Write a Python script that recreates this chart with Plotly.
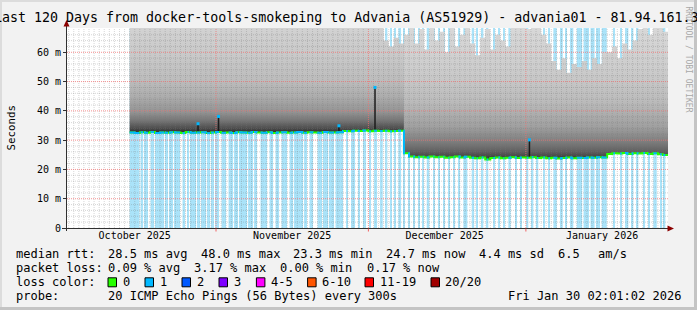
import plotly.graph_objects as go
import pandas as pd

# ---------------- data ----------------
SERIES_START = "2025-10-15 00:00"     # first consolidated sample (day 0)
X_START = "2025-10-02 16:04"
X_END = "2026-01-28 23:25"

# daily median RTT in ms (day 0 = Oct 15 2025)
median_ms = [
    32.6, 32.4, 32.7, 32.5, 32.8, 32.4, 32.6, 32.5, 32.7, 32.6,
    32.4, 32.8, 32.5, 32.6, 32.7, 32.4, 32.6, 32.8, 32.5, 32.6,
    32.4, 32.7, 32.6, 32.5, 32.8, 32.6, 32.5, 32.7, 32.4, 32.6,
    32.7, 32.5, 32.6, 32.8, 32.5, 32.7, 32.6, 32.5, 32.8, 32.6,
    32.6, 32.7, 33.1, 33.0, 33.2, 33.1, 33.3, 33.0, 33.2, 33.1,
    33.2, 33.0, 33.1, 33.2, 25.5, 24.4, 24.2, 24.3, 24.1, 24.4,
    24.2, 24.3, 24.0, 24.2, 24.4, 24.1, 24.3, 24.0, 23.8, 24.1,
    23.4, 23.9, 24.1, 23.8, 24.0, 24.2, 23.9, 24.1, 24.0, 24.2,
    23.9, 24.1, 23.8, 24.0, 23.7, 23.9, 24.1, 23.8, 24.0, 23.9,
    24.1, 24.0, 24.2, 24.1, 25.3, 25.5, 25.4, 25.6, 25.3, 25.5,
    25.4, 25.6, 25.3, 25.5, 25.2, 24.9,
]

# daily highest ping (top of the smoke) in ms
smoke_top_ms = [
    80, 80, 80, 80, 80, 80, 80, 80, 80, 80,
    80, 80, 80, 80, 80, 80, 80, 80, 80, 80,
    80, 80, 80, 80, 80, 80, 80, 80, 80, 80,
    80, 80, 80, 80, 80, 80, 80, 80, 80, 80,
    80, 80, 80, 80, 80, 72, 70, 73, 69, 71,
    64, 62, 65, 63, 66, 70, 63, 68, 61, 70,
    64, 67, 60, 69, 62, 66, 70, 63, 59, 65,
    68, 61, 66, 64, 62, 69, 70, 72, 68, 71,
    69, 66, 63, 57, 54, 58, 53, 56, 55, 57,
    54, 58, 56, 60, 60, 62, 58, 63, 61, 64,
    68, 70, 66, 69, 71, 67,
]

level_shift_day = 54   # route change: median drops from ~33 ms to ~24 ms

# periods with 1 lost ping, [start_day, end_day]
loss_runs = [
    [0.00, 1.95], [2.15, 2.64], [2.84, 3.62], [4.11, 4.80], [5.00, 6.77],
    [6.97, 7.56], [7.76, 8.54], [8.74, 9.92], [10.41, 10.91], [11.40, 11.69],
    [11.89, 13.07], [13.27, 13.86], [14.06, 15.04], [15.24, 15.83], [16.02, 16.61],
    [16.81, 17.60], [18.09, 18.98], [19.47, 20.35], [20.55, 21.34], [21.54, 23.11],
    [23.31, 24.29], [24.49, 25.08], [25.77, 27.05], [27.54, 28.23], [28.72, 29.41],
    [29.90, 30.98], [31.48, 32.17], [32.36, 34.13], [34.33, 34.92], [35.41, 36.10],
    [36.99, 37.87], [38.07, 39.06], [39.25, 40.24], [40.53, 42.01], [42.60, 42.99],
    [43.58, 44.37], [44.96, 45.35], [45.94, 46.54], [47.13, 47.52], [48.11, 48.70],
    [49.29, 49.82], [50.28, 50.73], [51.26, 51.65], [52.05, 52.44], [52.89, 53.43],
    [53.88, 54.21], [54.86, 55.20], [55.85, 56.04], [56.83, 57.03], [57.70, 57.89],
    [58.48, 59.00], [59.78, 59.98], [60.77, 60.97], [61.75, 61.95], [62.74, 62.93],
    [63.72, 63.92], [64.71, 65.04], [65.69, 66.48], [67.34, 67.80], [68.33, 68.52],
    [69.31, 69.63], [70.30, 70.61], [71.59, 71.93], [72.58, 72.91], [73.56, 73.76],
    [74.55, 75.02], [75.87, 76.20], [76.85, 77.19], [78.17, 78.48], [79.15, 79.47],
    [80.14, 80.45], [81.44, 81.77], [82.42, 82.76], [83.41, 84.08], [84.72, 85.26],
    [85.71, 86.04], [86.69, 87.34], [88.01, 89.06], [89.35, 90.43], [90.73, 91.52],
    [91.81, 92.60], [92.93, 93.92], [95.22, 95.55], [96.54, 96.87], [97.52, 98.17],
    [98.84, 99.15], [99.82, 100.14], [101.12, 101.46], [102.11, 102.44], [103.09, 103.76],
    [104.41, 104.74], [105.06, 105.45],
]

# short median spikes
spike_day = [13.46, 17.50, 41.20, 48.30, 78.70]
spike_ms = [35.6, 38.1, 34.9, 48.0, 30.1]

month_starts = ["2025-11-01", "2025-12-01", "2026-01-01"]
month_label_dates = ["2025-10-16", "2025-11-16", "2025-12-16", "2026-01-16"]
month_labels = ["October 2025", "November 2025", "December 2025", "January 2026"]

y_tick_vals = [0, 10, 20, 30, 40, 50, 60]
y_tick_text = ["0", "10 m", "20 m", "30 m", "40 m", "50 m", "60 m"]

title_text = "Last 120 Days from docker-tools-smokeping to Advania (AS51929) - advania01 - 81.94.161.3"
rtt_items = ["median rtt:", "28.5 ms avg", "48.0 ms max", "23.3 ms min",
             "24.7 ms now", "4.4 ms sd", "6.5", "am/s"]
loss_items = ["packet loss:", "0.09 % avg", "3.17 % max", "0.00 % min", "0.17 % now"]
loss_color_title = "loss color:"
loss_color_labels = ["0", "1", "2", "3", "4-5", "6-10", "11-19", "20/20"]
loss_color_values = ["#26ff00", "#00b8ff", "#0059ff", "#7e00ff",
                     "#ff00ff", "#ff5500", "#ff0000", "#a10000"]
probe_items = ["probe:", "20 ICMP Echo Pings (56 Bytes) every 300s"]
timestamp_text = "Fri Jan 30 02:01:02 2026"
watermark = "RRDTOOL / TOBI OETIKER"

# ---------------- layout / style ----------------
W, H = 697, 310
ML, MR, MT, MB = 67, 29, 28, 82
PW = W - ML - MR
PH = H - MT - MB
Y_MAX = 68.3
FONT = "DejaVu Sans Mono"
BACK = "#f2f2f2"
LOSS_BG = "#aae3f9"
MED_OK = loss_color_values[0]
MED_LOSS = loss_color_values[1]

rtt_x = [15.6, 107.6, 200.6, 293.4, 386.3, 479.2, 558.4, 597.8]
loss_x = [15.6, 107.6, 194.0, 280.4, 366.8]
box_x = [108, 145, 182, 219, 256.4, 307.6, 365, 431]
box_label_x = [123, 160, 197, 234, 271, 322, 380, 445]
row_y = [254.3, 268.3, 282.3, 296]


def fx(px):
    return (px - ML) / PW


def fy(py):
    return (H - MB - py) / PH


T0 = pd.Timestamp(SERIES_START)


def at(d):
    return T0 + pd.Timedelta(days=d)


def med_at(d):
    i = min(max(int(d), 0), len(median_ms) - 1)
    return median_ms[i]


fig = go.Figure()

# loss background stripes
centers = [at((s + e) / 2) for s, e in loss_runs]
widths = [(e - s) * 86400000 for s, e in loss_runs]
fig.add_trace(go.Bar(x=centers, y=[Y_MAX] * len(loss_runs), width=widths,
                     marker=dict(color=LOSS_BG, line=dict(width=0)),
                     hoverinfo="skip", showlegend=False))

# smoke (two periods, gradient fill between median and highest ping)
grad_a = [[0, "#2a2a2a"], [0.05, "#505050"], [0.12, "#767676"], [0.2, "#939393"],
          [0.35, "#adadad"], [0.5, "#bcbcbc"], [0.72, "#c8c8c8"], [1, "#d2d2d2"]]
grad_b = [[0, "#2a2a2a"], [0.03, "#4c4c4c"], [0.07, "#646464"], [0.14, "#7f7f7f"],
          [0.25, "#a0a0a0"], [0.45, "#bcbcbc"], [0.7, "#cdcdcd"], [1, "#d8d8d8"]]
for (a, b), grad in (((0, level_shift_day), grad_a),
                     ((level_shift_day, len(median_ms)), grad_b)):
    xs = [at(d) for d in range(a, b + 1)]
    lo = median_ms[a:b] + [median_ms[b - 1]]
    hi = smoke_top_ms[a:b] + [smoke_top_ms[b - 1]]
    fig.add_trace(go.Scatter(x=xs, y=lo, mode="lines", line=dict(width=0, shape="hv"),
                             hoverinfo="skip", showlegend=False))
    fig.add_trace(go.Scatter(x=xs, y=hi, mode="lines", line=dict(width=0, shape="hv"),
                             fill="tonexty",
                             fillgradient=dict(type="vertical", colorscale=grad,
                                               start=min(median_ms[a:b]), stop=Y_MAX),
                             hoverinfo="skip", showlegend=False))

# grid on top of the graph (rrdtool style)
x_lo, x_hi = pd.Timestamp(X_START), pd.Timestamp(X_END)
days = pd.date_range(x_lo.ceil("D"), x_hi, freq="D")
ms_set = set(pd.to_datetime(month_starts))
gx, gy = [], []
for d in days:
    if d in ms_set:
        continue
    gx += [d, d, None]
    gy += [0, Y_MAX, None]
for v in range(2, 68, 2):
    if v % 10:
        gx += [x_lo, x_hi, None]
        gy += [v, v, None]
fig.add_trace(go.Scatter(x=gx, y=gy, mode="lines",
                         line=dict(color="rgba(120,120,120,0.3)", width=1, dash="1px,1px"),
                         hoverinfo="skip", showlegend=False))
mx, my = [], []
for m in month_starts:
    mx += [pd.Timestamp(m), pd.Timestamp(m), None]
    my += [0, Y_MAX, None]
for v in y_tick_vals[1:]:
    mx += [x_lo, x_hi, None]
    my += [v, v, None]
fig.add_trace(go.Scatter(x=mx, y=my, mode="lines",
                         line=dict(color="rgba(240,110,110,0.75)", width=1, dash="1px,1px"),
                         hoverinfo="skip", showlegend=False))

# spikes
sx, sy = [], []
for d, v in zip(spike_day, spike_ms):
    sx += [at(d), at(d), None]
    sy += [med_at(d), v, None]
fig.add_trace(go.Scatter(x=sx, y=sy, mode="lines", line=dict(color="#1c1c1c", width=1.5),
                         hoverinfo="skip", showlegend=False))

# median line, green where no loss
mxs = [at(d) for d in range(len(median_ms) + 1)]
mys = median_ms + [median_ms[-1]]
fig.add_trace(go.Scatter(x=mxs, y=mys, mode="lines", line=dict(color=MED_OK, width=2, shape="hv"),
                         hoverinfo="skip", showlegend=False))
# light blue where 1 ping lost
bx, by = [], []
for s, e in loss_runs:
    pts = [s] + [k for k in range(int(s) + 1, int(e) + 1) if s < k < e] + [e]
    for p in pts[:-1]:
        bx.append(at(p))
        by.append(med_at(p))
    bx.append(at(e))
    by.append(med_at(pts[-2]))
    bx.append(None)
    by.append(None)
fig.add_trace(go.Scatter(x=bx, y=by, mode="lines", line=dict(color=MED_LOSS, width=2, shape="hv"),
                         hoverinfo="skip", showlegend=False))
fig.add_trace(go.Scatter(x=[at(d) for d in spike_day], y=spike_ms, mode="markers",
                         marker=dict(color=MED_LOSS, size=3, symbol="square", line=dict(width=0)),
                         hoverinfo="skip", showlegend=False))

# ---------------- shapes ----------------
shapes = []
# frame shading
shapes.append(dict(type="rect", xref="paper", yref="paper", x0=fx(0), x1=fx(W), y0=fy(2), y1=fy(0),
                   line=dict(width=0), fillcolor="#dcdcdc", layer="above"))
shapes.append(dict(type="rect", xref="paper", yref="paper", x0=fx(0), x1=fx(2), y0=fy(H), y1=fy(0),
                   line=dict(width=0), fillcolor="#dcdcdc", layer="above"))
shapes.append(dict(type="rect", xref="paper", yref="paper", x0=fx(W - 3), x1=fx(W), y0=fy(H), y1=fy(0),
                   line=dict(width=0), fillcolor="#c4c4c4", layer="above"))
shapes.append(dict(type="rect", xref="paper", yref="paper", x0=fx(0), x1=fx(W), y0=fy(H), y1=fy(H - 3),
                   line=dict(width=0), fillcolor="#c4c4c4", layer="above"))
# axes
AX = "#303030"
shapes.append(dict(type="line", xref="paper", yref="paper", x0=fx(66.5), x1=fx(66.5),
                   y0=fy(231), y1=fy(24), line=dict(color=AX, width=1), layer="above"))
shapes.append(dict(type="line", xref="paper", yref="paper", x0=fx(62), x1=fx(669),
                   y0=fy(228.5), y1=fy(228.5), line=dict(color=AX, width=1), layer="above"))
ARROW = "#8b0000"
shapes.append(dict(type="path", xref="paper", yref="paper",
                   path=f"M {fx(66.5)},{fy(20)} L {fx(63.5)},{fy(26.5)} L {fx(69.5)},{fy(26.5)} Z",
                   fillcolor=ARROW, line=dict(width=0), layer="above"))
shapes.append(dict(type="path", xref="paper", yref="paper",
                   path=f"M {fx(674)},{fy(228.5)} L {fx(667.5)},{fy(225.5)} L {fx(667.5)},{fy(231.5)} Z",
                   fillcolor=ARROW, line=dict(width=0), layer="above"))
# red month ticks below the axis
for m in month_starts:
    shapes.append(dict(type="line", xref="x", yref="paper", x0=m, x1=m, y0=fy(231.5), y1=fy(228.5),
                       line=dict(color="rgba(240,80,80,0.9)", width=1), layer="above"))
# loss colour boxes
for bxp, col in zip(box_x, loss_color_values):
    shapes.append(dict(type="rect", xref="paper", yref="paper", x0=fx(bxp), x1=fx(bxp + 8.5),
                       y0=fy(row_y[2] + 4.5), y1=fy(row_y[2] - 4.5),
                       line=dict(color="#000000", width=1), fillcolor=col, layer="above"))

# ---------------- annotations ----------------
ann = []


def text(px, py, s, size=12, anchor="left", color="#000000", angle=0):
    ann.append(dict(x=fx(px), y=fy(py), xref="paper", yref="paper", text=s, showarrow=False,
                    xanchor=anchor, yanchor="middle", borderpad=0, borderwidth=0,
                    textangle=angle, font=dict(family=FONT, size=size, color=color)))


text(345.7, 17.5, title_text, size=13.3, anchor="center")
text(688.5, 59, watermark, size=8, anchor="center", color="#a8a8a8", angle=90)
text(10.5, 128, "Seconds", size=10.8, anchor="center", angle=-90)
for px, s in zip(rtt_x, rtt_items):
    text(px, row_y[0], s)
for px, s in zip(loss_x, loss_items):
    text(px, row_y[1], s)
text(15.6, row_y[2], loss_color_title)
for px, s in zip(box_label_x, loss_color_labels):
    text(px, row_y[2], s)
text(15.6, row_y[3], probe_items[0])
text(107.6, row_y[3], probe_items[1])
text(680.5, row_y[3], timestamp_text, anchor="right")

fig.update_layout(
    width=W, height=H, autosize=False,
    margin=dict(l=ML, r=MR, t=MT, b=MB, pad=0),
    paper_bgcolor=BACK, plot_bgcolor="#ffffff",
    showlegend=False, barmode="overlay",
    shapes=shapes, annotations=ann,
    xaxis=dict(type="date", range=[X_START, X_END], tickvals=month_label_dates,
               ticktext=month_labels, ticks="", showgrid=False, zeroline=False,
               showline=False, fixedrange=True,
               tickfont=dict(family=FONT, size=10, color="#000000")),
    yaxis=dict(range=[0, Y_MAX], tickvals=y_tick_vals, ticktext=y_tick_text,
               ticks="outside", ticklen=3, tickcolor=AX, showgrid=False, zeroline=False,
               showline=False, fixedrange=True,
               tickfont=dict(family=FONT, size=10, color="#000000")),
)

fig.write_html("out.html", config={"displayModeBar": False})
